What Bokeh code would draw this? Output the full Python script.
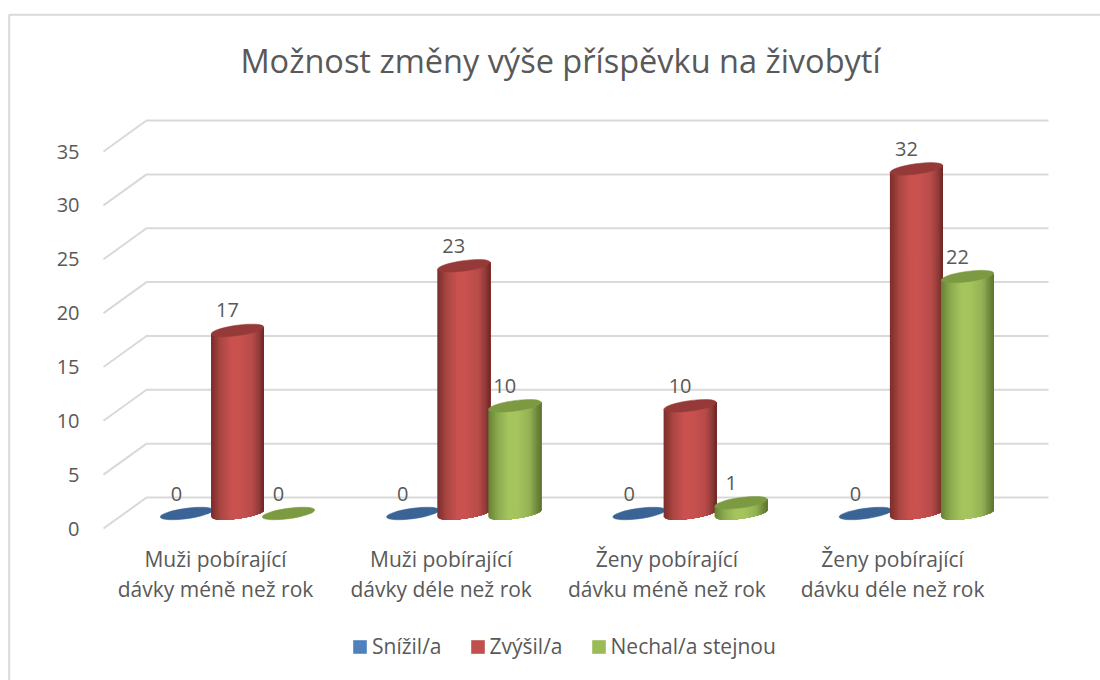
import numpy as np
from bokeh.plotting import figure
from bokeh.models import (Range1d, LinearAxis, FixedTicker, Legend, LegendItem, BoxAnnotation,
                          ColumnDataSource)
from bokeh.core.properties import value
from bokeh.embed import file_html
from bokeh.resources import INLINE

title = "Možnost změny výše příspěvku na živobytí"
categories = ["Muži pobírající\ndávky méně než rok", "Muži pobírající\ndávky déle než rok",
              "Ženy pobírající\ndávku méně než rok", "Ženy pobírající\ndávku déle než rok"]
snizil = [0, 0, 0, 0]
zvysil = [17, 23, 10, 32]
nechal = [0, 10, 1, 22]
series_names = ["Snížil/a", "Zvýšil/a", "Nechal/a stejnou"]
y_ticks = [0, 5, 10, 15, 20, 25, 30, 35]
FONT = "Open Sans"
TXT = "#595959"
GRID = "#d9d9d9"

# Pixel geometry of the pseudo-3D chart
W, H = 1100, 680
PX_X = 226.3; X0 = 237
PX_Y = 10.77; Y0_BAR = 513; Y0_AXIS = 528; Y0_BACK = 497
LBL_X0 = 215; LBL_DX = 225.7

def xd(px):
    return (px - X0) / PX_X

def yd(py):
    return (Y0_BAR - py) / PX_Y

p = figure(width=W, height=H, output_backend="svg", toolbar_location=None,
           x_range=Range1d(xd(0), xd(W)), y_range=Range1d(yd(H), yd(0)),
           x_axis_location=None, y_axis_location=None,
           min_border_left=0, min_border_right=0, min_border_top=0, min_border_bottom=0)
p.outline_line_color = None
p.grid.visible = False
p.background_fill_color = "white"
p.border_fill_color = "white"

p.extra_y_ranges["axis"] = Range1d((Y0_AXIS - H) / PX_Y, Y0_AXIS / PX_Y)
p.extra_x_ranges["labels"] = Range1d(-LBL_X0 / LBL_DX, (W - LBL_X0) / LBL_DX)

yax = LinearAxis(y_range_name="axis", ticker=FixedTicker(ticks=y_ticks), fixed_location=xd(100))
yax.axis_line_color = None
yax.major_tick_line_color = None
yax.minor_tick_line_color = None
yax.major_label_text_font = FONT
yax.major_label_text_font_size = "20px"
yax.major_label_text_color = TXT
yax.major_label_standoff = 15
p.add_layout(yax, "left")

xax = LinearAxis(x_range_name="labels", ticker=FixedTicker(ticks=list(range(len(categories)))),
                 major_label_overrides={i: c for i, c in enumerate(categories)},
                 fixed_location=yd(528))
xax.axis_line_color = None
xax.major_tick_line_color = None
xax.minor_tick_line_color = None
xax.major_label_text_font = FONT
xax.major_label_text_font_size = "21px"
xax.major_label_text_color = TXT
xax.major_label_text_line_height = 1.1
xax.major_label_standoff = 10
p.add_layout(xax, "below")

# Chart frame
p.add_layout(BoxAnnotation(left=8.7, right=1300, top=14.3, bottom=900,
                           left_units="canvas", right_units="canvas",
                           top_units="canvas", bottom_units="canvas",
                           fill_alpha=0, line_color=GRID, line_alpha=1, line_width=2, level="underlay"))

# Grid: back wall and side wall
back = (Y0_BAR - Y0_BACK) / PX_Y
front = (Y0_BAR - Y0_AXIS) / PX_Y
gx0, gx1, gx2 = xd(103), xd(146), xd(1048)
p.multi_line(xs=[[gx0, gx1, gx2] for _ in y_ticks],
             ys=[[t + front, t + back, t + back] for t in y_ticks],
             line_color=GRID, line_width=2)

BAR_W = 53 / PX_X
OFF = 51 / PX_X
SLOPE = 3.5 / PX_Y
SEMI = 5.2 / PX_Y
ANGLE = np.arctan2(7, 51)
STRIPS = 40

def hex2rgb(h):
    return np.array([int(h[i:i + 2], 16) for i in (1, 3, 5)], float)

stops_t = [0.0, 0.06, 0.18, 0.38, 0.55, 0.78, 0.92, 1.0]
palette = {
    0: dict(side=["#28425f", "#2f5078", "#3f6a9e", "#4f81bd", "#4f81bd", "#3f6a9e", "#2f5078", "#28425f"], cap="#3a6496"),
    1: dict(side=["#7a2f2d", "#8a3533", "#ab4744", "#c9524f", "#c9524f", "#b84c49", "#8f3a38", "#6a2725"], cap="#953a38"),
    2: dict(side=["#667f35", "#73903d", "#8cab4f", "#a6c45e", "#a6c45e", "#94b255", "#70893c", "#5d7530"], cap="#7c9a42"),
}

def shade(cols, t):
    arr = np.array([hex2rgb(c) for c in cols])
    rgb = [int(np.interp(t, stops_t, arr[:, i])) for i in range(3)]
    return "#%02x%02x%02x" % tuple(rgb)

series = [snizil, zvysil, nechal]
lab_x, lab_y, lab_t = [], [], []
for si, vals in enumerate(series):
    xs, ys, cols = [], [], []
    cx, cy = [], []
    centres = [i + (si - 1) * OFF for i in range(len(vals))]
    for c, v in zip(centres, vals):
        cx.append(c); cy.append(v)
        lab_x.append(c); lab_y.append(v); lab_t.append(str(v))
        if v <= 0:
            continue
        # painter's strips: each one runs to the right edge, the next covers it (no seams)
        for k in range(STRIPS):
            t0 = -1 + 2 * k / STRIPS
            tt = np.linspace(t0, 1, 24)
            xx = c + tt * BAR_W / 2
            bot = SLOPE * tt - SEMI * np.sqrt(np.maximum(1 - tt ** 2, 0))
            top = v + SLOPE * tt
            xs.append(list(xx) + list(xx[::-1]))
            ys.append(list(bot) + list(top[::-1]))
            cols.append(shade(palette[si]["side"], (k + 0.5) / STRIPS))
    if xs:
        src = ColumnDataSource(dict(xs=xs, ys=ys, c=cols))
        p.patches("xs", "ys", source=src, fill_color="c", line_color=None)
    p.ellipse(x=cx, y=cy, width=BAR_W, height=2 * SEMI, angle=ANGLE,
              fill_color=palette[si]["cap"], line_color=palette[si]["cap"], line_width=0.5)

p.text(x=lab_x, y=lab_y, text=lab_t, text_font=value(FONT), text_font_size="20px",
       text_color=TXT, text_align="center", text_baseline="middle", x_offset=-10, y_offset=-20)

# Title
p.text(x=[xd(560)], y=[yd(60)], text=[title], text_font=value(FONT), text_font_size="32.5px",
       text_color=TXT, text_align="center", text_baseline="middle")

# Legend: the swatch renderers sit outside the visible range, only their legend glyphs show
legend_colors = ["#4f81bd", "#c0504d", "#9bbb59"]
items = []
for n, col in zip(series_names, legend_colors):
    r = p.quad(left=[xd(-50)], right=[xd(-40)], top=[yd(-40)], bottom=[yd(-50)],
               fill_color=col, line_color=None)
    items.append(LegendItem(label=n, renderers=[r]))
leg = Legend(items=items, orientation="horizontal", location=(351, 20), border_line_color=None,
             background_fill_alpha=0, glyph_width=17, glyph_height=17, label_standoff=4,
             spacing=27, margin=0, padding=0,
             label_text_font=FONT, label_text_font_size="21px", label_text_color=TXT)
p.add_layout(leg, "center")

open("out.html", "w").write(file_html(p, INLINE))
